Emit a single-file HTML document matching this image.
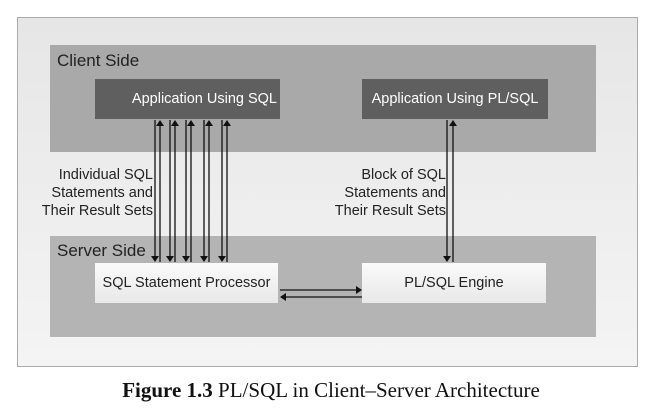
<!DOCTYPE html>
<html><head><style>
body{margin:0;width:662px;height:410px;background:#fff;position:relative;font-family:"Liberation Sans",sans-serif;overflow:hidden}
.a{position:absolute}
</style></head><body>
<div class="a" style="left:17px;top:17px;width:619px;height:348px;border:1px solid #aaa;background:linear-gradient(#e6e6e6,#f4f4f4)"></div>
<div class="a" style="left:50px;top:45px;width:546px;height:107px;background:#a9a9a9"></div>
<div class="a" style="left:50px;top:236px;width:546px;height:101px;background:#b4b4b4"></div>
<div class="a" style="left:57px;top:51px;font-size:17px;color:#222">Client Side</div>
<div class="a" style="left:57px;top:241px;font-size:17px;color:#222">Server Side</div>
<div class="a" style="left:95px;top:79px;width:185px;height:40px;background:#5f5f5f;color:#fff;font-size:14.5px;line-height:40px;text-align:right;box-sizing:border-box;padding-right:3px;white-space:nowrap">Application Using SQL</div>
<div class="a" style="left:362px;top:79px;width:186px;height:40px;background:#5f5f5f;color:#fff;font-size:14.5px;line-height:40px;text-align:center;white-space:nowrap">Application Using PL/SQL</div>
<div class="a" style="left:95px;top:263px;width:183px;height:40px;background:linear-gradient(#fafafa,#e8e8e8);color:#222;font-size:14.5px;line-height:40px;text-align:center;white-space:nowrap">SQL Statement Processor</div>
<div class="a" style="left:362px;top:263px;width:184px;height:40px;background:linear-gradient(#fafafa,#e8e8e8);color:#222;font-size:14.5px;line-height:40px;text-align:center">PL/SQL Engine</div>
<div class="a" style="left:10px;top:166px;width:143px;font-size:14.5px;line-height:18px;text-align:right;color:#222">Individual SQL<br>Statements and<br>Their Result Sets</div>
<div class="a" style="left:290px;top:166px;width:156px;font-size:14.5px;line-height:18px;text-align:right;color:#222">Block of SQL<br>Statements and<br>Their Result Sets</div>
<svg class="a" style="left:0;top:0" width="662" height="410">
<defs><marker id="m" markerWidth="6" markerHeight="8" refX="5" refY="4" orient="auto" markerUnits="userSpaceOnUse"><path d="M0,0L6,4L0,8z" fill="#111"/></marker></defs>
<g stroke="#111" stroke-width="1.3" marker-end="url(#m)">
<line x1="155" y1="120" x2="155" y2="261"/><line x1="160" y1="262" x2="160" y2="121"/>
<line x1="170" y1="120" x2="170" y2="261"/><line x1="175" y1="262" x2="175" y2="121"/>
<line x1="186" y1="120" x2="186" y2="261"/><line x1="191" y1="262" x2="191" y2="121"/>
<line x1="204" y1="120" x2="204" y2="261"/><line x1="209" y1="262" x2="209" y2="121"/>
<line x1="222" y1="120" x2="222" y2="261"/><line x1="227" y1="262" x2="227" y2="121"/>
<line x1="447" y1="120" x2="447" y2="261"/><line x1="453" y1="262" x2="453" y2="121"/>
<line x1="280" y1="290" x2="361" y2="290"/><line x1="362" y1="297" x2="281" y2="297"/>
</g></svg>
<div class="a" style="left:0;width:662px;top:378px;text-align:center;font-family:'Liberation Serif',serif;font-size:21px;color:#111"><b>Figure 1.3</b> PL/SQL in Client–Server Architecture</div>
</body></html>
